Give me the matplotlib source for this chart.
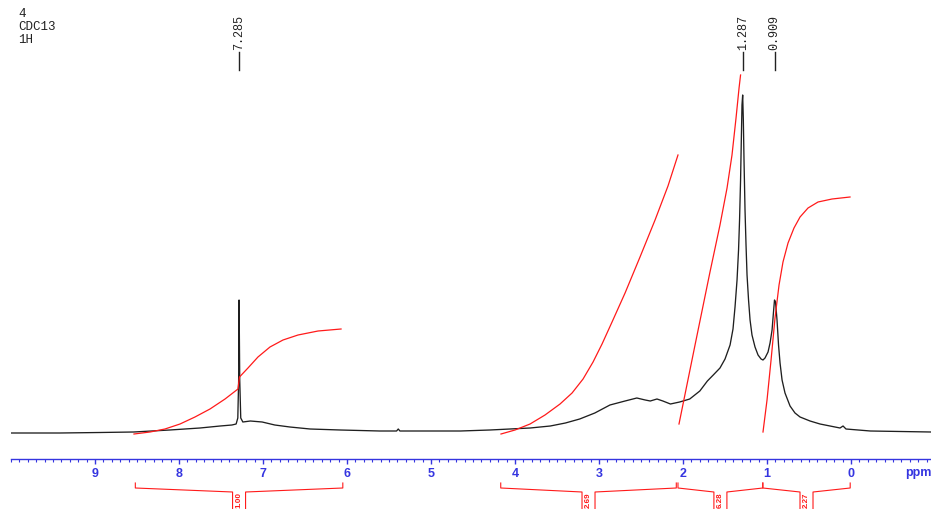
import matplotlib
matplotlib.use('Agg')
import matplotlib.pyplot as plt
from matplotlib.transforms import blended_transform_factory
from matplotlib.ticker import FixedLocator, MultipleLocator, FormatStrFormatter

# ---------------- data ----------------
header_lines = ["4", "CDC13", "1H"]

spec_ppm = [10.01, 9.42, 8.94, 8.54, 8.11, 7.75, 7.51, 7.37, 7.32, 7.30, 7.29,
            7.285, 7.277, 7.265, 7.24, 7.15, 7.01, 6.86, 6.68, 6.44, 6.08, 5.61,
            5.41, 5.39, 5.37, 5.13, 4.65, 4.30, 4.06, 3.82, 3.58, 3.40, 3.23,
            3.05, 2.87, 2.69, 2.55, 2.45, 2.39, 2.31, 2.24, 2.15, 2.04, 1.92,
            1.80, 1.71, 1.64, 1.56, 1.50, 1.44, 1.405, 1.381, 1.357, 1.339,
            1.327, 1.315, 1.306, 1.298, 1.290, 1.282, 1.274, 1.262, 1.250,
            1.238, 1.220, 1.202, 1.179, 1.143, 1.107, 1.071, 1.048, 1.024,
            0.988, 0.964, 0.940, 0.923, 0.911, 0.899, 0.881, 0.863, 0.845,
            0.821, 0.786, 0.726, 0.667, 0.607, 0.488, 0.369, 0.131, 0.095,
            0.06, -0.23, -0.95]
spec_int = [0, 0, 0.5, 1, 3, 5, 7, 8, 9, 15, 53,
            133, 53, 15, 11, 12, 11, 8, 6, 4, 3, 2,
            2, 4, 2, 2, 2, 3, 4, 5, 7, 10, 14,
            20, 28, 32, 35, 33, 32, 34, 32, 29, 31, 34,
            42, 52, 58, 65, 74, 88, 104, 126, 153, 183,
            213, 253, 293, 328, 338, 313, 273, 223, 188,
            158, 133, 113, 98, 86, 78, 74, 73, 75,
            81, 90, 103, 121, 133, 131, 113, 88, 70,
            53, 40, 27, 20, 16, 12, 9, 5, 7,
            4, 2, 1]

int1_ppm = [8.536, 8.345, 8.167, 7.988, 7.810, 7.631, 7.452, 7.298, 7.280,
            7.179, 7.060, 6.917, 6.762, 6.583, 6.345, 6.071]
int1_val = [-1, 1, 4, 9, 16, 24, 34, 44, 56, 65, 76, 86, 93, 98, 102, 104]
int2_ppm = [4.167, 4.0, 3.821, 3.643, 3.464, 3.321, 3.190, 3.071, 2.964,
            2.845, 2.690, 2.512, 2.333, 2.179, 2.060]
int2_val = [-1, 3, 9, 18, 29, 40, 54, 71, 89, 111, 140, 176, 213, 247, 278]
int3_ppm = [2.048, 1.857, 1.679, 1.560, 1.476, 1.417, 1.369, 1.333, 1.315]
int3_val = [9, 88, 161, 208, 245, 278, 315, 345, 358]
int4_ppm = [1.048, 1.0, 0.952, 0.905, 0.857, 0.810, 0.750, 0.679, 0.607,
            0.512, 0.393, 0.226, 0.012]
int4_val = [1, 33, 73, 115, 148, 171, 190, 205, 216, 225, 231, 234, 236]

peak_labels = ["7.285", "1.287", "0.909"]
peak_ppm = [7.285, 1.287, 0.909]

region_start = [8.52, 4.17, 2.06, 1.05]
region_end = [6.05, 2.08, 1.05, 0.01]
region_labels = ["1.00", "2.69", "6.28", "2.27"]

major_ticks = [0, 1, 2, 3, 4, 5, 6, 7, 8, 9]

# ---------------- figure ----------------
W, H = 931, 509
fig = plt.figure(figsize=(W / 100, H / 100), dpi=100)
fig.patch.set_facecolor('white')
ax = fig.add_axes([11 / W, 50 / H, 920 / W, 459 / H])
ax.set_xlim(10.0, -0.952)
ax.set_ylim(-26, 433)

blue = '#3535e0'
red = '#ff1a1a'

for s in ['left', 'right', 'top']:
    ax.spines[s].set_visible(False)
ax.spines['bottom'].set_color(blue)
ax.spines['bottom'].set_linewidth(1.0)
ax.set_yticks([])
ax.xaxis.set_major_locator(FixedLocator(major_ticks))
ax.xaxis.set_major_formatter(FormatStrFormatter('%d'))
ax.xaxis.set_minor_locator(MultipleLocator(0.1))
ax.tick_params(axis='x', which='major', direction='out', length=3.8, width=1.0,
               color=blue, labelcolor=blue, labelsize=9, pad=3)
ax.tick_params(axis='x', which='minor', direction='out', length=1.8, width=0.8,
               color=blue)
for lab in ax.get_xticklabels():
    lab.set_fontweight('bold')
    lab.set_fontfamily('Liberation Sans')

# spectrum
ax.plot(spec_ppm, spec_int, color='#1f1f1f', lw=0.95, solid_joinstyle='round')

# integral curves
for xs, ys in [(int1_ppm, int1_val), (int2_ppm, int2_val),
               (int3_ppm, int3_val), (int4_ppm, int4_val)]:
    ax.plot(xs, ys, color=red, lw=0.9, solid_joinstyle='round')

# helpers: x in data (ppm), y in pixels from top
trans = blended_transform_factory(ax.transData, fig.transFigure)
def fy(py):
    return (H - py) / H

ppm_per_px = 10.952 / 920

# header text
for i, t in enumerate(header_lines):
    fig.text(18 / W, fy(20 + i * 13), t, family='Liberation Mono', fontsize=9,
             color='#222222', va='bottom', ha='left')

# peak labels
for lab, p in zip(peak_labels, peak_ppm):
    fig.text(p, fy(50), lab, transform=trans, rotation=90, ha='center',
             va='bottom', family='Liberation Mono', fontsize=8.5, color='#222222')
    fig.add_artist(plt.Line2D([p, p], [fy(52), fy(70)], transform=trans,
                              color='#222222', lw=1.0))

# integration brackets
hw = 6.5 * ppm_per_px
for a, b, lab in zip(region_start, region_end, region_labels):
    c = (a + b) / 2
    xs = [a, a, c + hw, c + hw]
    ys = [fy(483), fy(488), fy(492), fy(515)]
    fig.add_artist(plt.Line2D(xs, ys, transform=trans, color=red, lw=0.8))
    xs = [b, b, c - hw, c - hw]
    fig.add_artist(plt.Line2D(xs, ys, transform=trans, color=red, lw=0.8))
    fig.text(c, fy(492.5), lab, transform=trans, rotation=90, ha='center',
             va='top', family='Liberation Sans', fontsize=5.8, fontweight='bold',
             color=red)

# ppm unit label
fig.text(905 / W, fy(473), 'ppm', family='Liberation Sans', fontsize=9,
         fontweight='bold', color=blue, ha='left', va='center')

fig.savefig('out.png', dpi=100, facecolor='white')
